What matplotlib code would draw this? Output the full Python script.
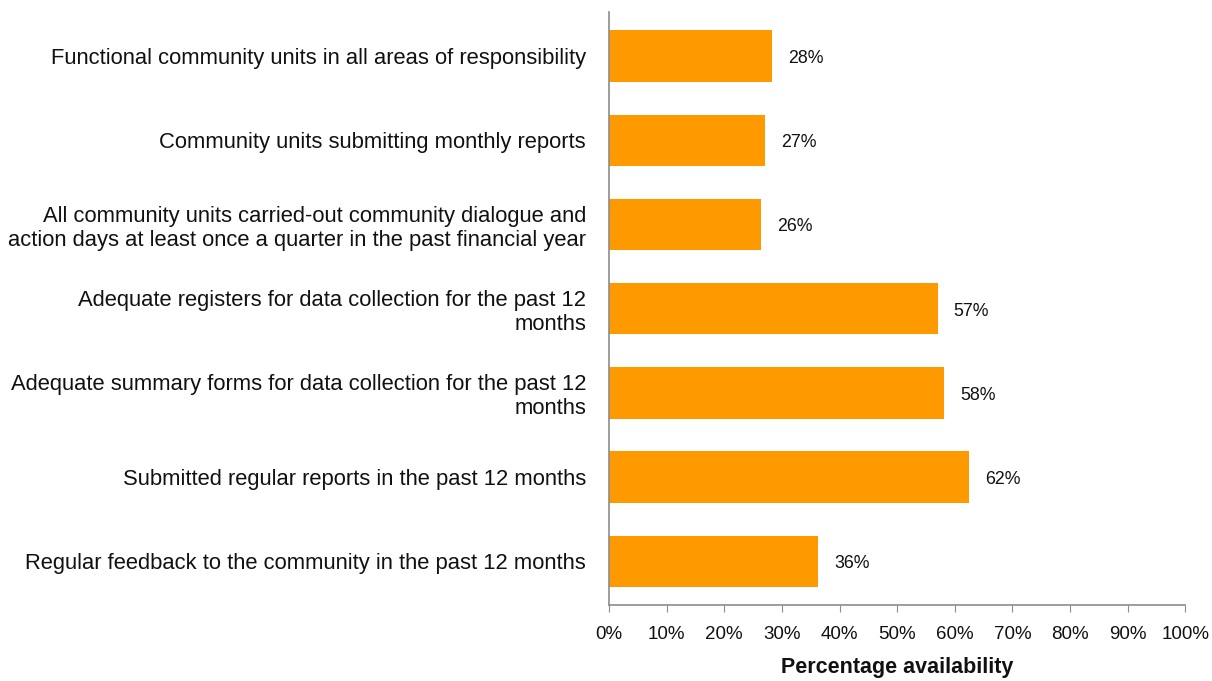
import matplotlib
matplotlib.use("Agg")
import matplotlib.pyplot as plt
from matplotlib.ticker import PercentFormatter

CATEGORIES = [
    "Functional community units in all areas of responsibility",
    "Community units submitting monthly reports",
    "All community units carried-out community dialogue and\naction days at least once a quarter in the past financial year",
    "Adequate registers for data collection for the past 12\nmonths",
    "Adequate summary forms for data collection for the past 12\nmonths",
    "Submitted regular reports in the past 12 months",
    "Regular feedback to the community in the past 12 months",
]
VALUES = [28.3, 27.1, 26.3, 57.0, 58.2, 62.5, 36.3]
LABELS = ["28%", "27%", "26%", "57%", "58%", "62%", "36%"]
XTICKS = list(range(0, 101, 10))

ORANGE = "#ff9900"
SPINE = "#8c8c8c"

plt.rcParams["font.family"] = ["Liberation Sans", "DejaVu Sans"]

fig = plt.figure(figsize=(12.12, 6.81), dpi=100)
ax = fig.add_axes([0.5025, 0.1116, 0.4755, 0.8704])

ys = list(range(len(CATEGORIES)))
ax.barh(ys, VALUES, height=0.61, color=ORANGE, zorder=2)
for y, v, lab in zip(ys, VALUES, LABELS):
    ax.text(v + 2.8, y + 0.03, lab, va="center", ha="left", fontsize=12.8, color="#111111")

ax.set_yticks(ys)
ax.set_yticklabels(CATEGORIES, fontsize=15.8, color="#111111", linespacing=1.18)
ax.invert_yaxis()
ax.set_ylim(len(CATEGORIES) - 0.5 + 0.02, -0.5 - 0.02)
ax.tick_params(axis="y", length=0, pad=16.5)

ax.set_xlim(0, 100)
ax.set_xticks(XTICKS)
ax.xaxis.set_major_formatter(PercentFormatter(decimals=0))
ax.tick_params(axis="x", length=5, color=SPINE, direction="out", labelsize=13.5,
               labelcolor="#111111", pad=10)
ax.set_xlabel("Percentage availability", fontsize=15.5, fontweight="bold", labelpad=10,
              color="#111111")

for s in ("top", "right"):
    ax.spines[s].set_visible(False)
for s in ("left", "bottom"):
    ax.spines[s].set_color(SPINE)
    ax.spines[s].set_linewidth(1.2)

fig.savefig("out.png", dpi=100, facecolor="white")
